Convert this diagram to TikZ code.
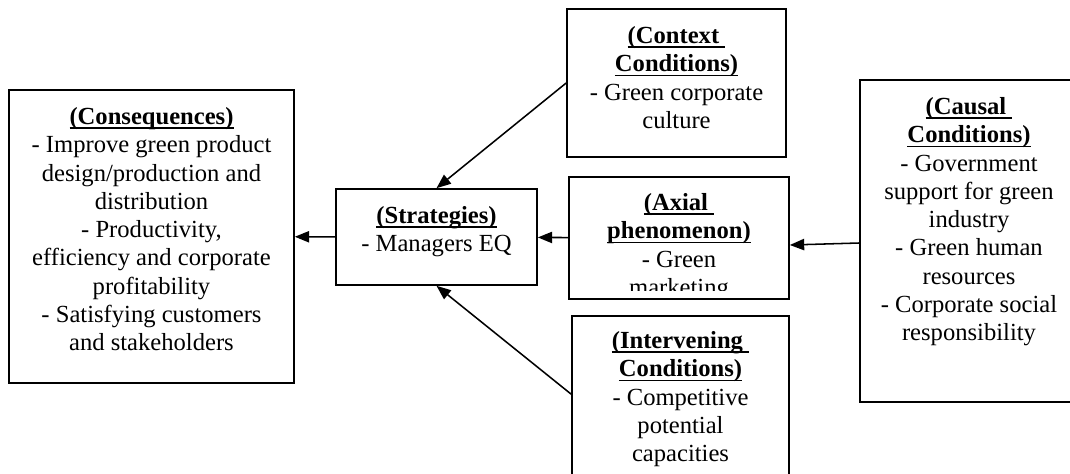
\documentclass[tikz,border=0pt]{standalone}
\usepackage{fontspec}
\setmainfont{Liberation Serif}
\usetikzlibrary{arrows.meta,calc,positioning}

\newcommand{\boxhead}[1]{\textbf{\setbox0\hbox{#1}\rlap{\rule[-2.3pt]{\wd0}{0.9pt}}\box0}}

\begin{document}
\begin{tikzpicture}[x=0.4878pt,y=-0.4878pt,>={Triangle[length=7pt,width=5.5pt]},
  box/.style 2 args={draw,line width=0.8pt,inner sep=0pt,
    minimum width=#1*0.4878pt,minimum height=#2*0.4878pt},
  boxtext/.style={align=center,anchor=north,inner sep=0pt,
    font=\fontsize{12pt}{13.8pt}\selectfont},
  link/.style={line width=0.75pt,->}]
  \clip (0,0) rectangle (1070,474);

  % boxes
  \node[box={285}{293}] (cons) at (151.5,236.5) {};
  \node[box={201}{96}] (strat) at (436.5,237) {};
  \node[box={219}{148}] (ctx) at (676.5,83) {};
  \node[box={220}{122}] (axial) at (679,238) {};
  \node[box={217}{184}] (interv) at (680.5,408) {};
  \node[box={218}{322}] (causal) at (969,241) {};

  % texts
  \node[boxtext] (constext) at (151.5,107) {\boxhead{(Consequences)}\\
    - Improve green product\\ design/production and\\ distribution\\
    - Productivity,\\ efficiency and corporate\\ profitability\\
    - Satisfying customers\\ and stakeholders};
  \node[boxtext] (strattext) at (436.5,206) {\boxhead{(Strategies)}\\ - Managers EQ};
  \node[boxtext] (ctxtext) at (676.5,26) {\boxhead{(Context\ }\\ \boxhead{Conditions)}\\
    - Green corporate\\ culture};
  \begin{scope}
    \clip (569,177) rectangle (789,290);
    \node[boxtext] (axialtext) at (679,193) {\boxhead{(Axial\ }\\ \boxhead{phenomenon)}\\
      - Green\\ marketing};
  \end{scope}
  \node[boxtext] (intervtext) at (680.5,331) {\boxhead{(Intervening\ }\\ \boxhead{Conditions)}\\
    - Competitive\\ potential\\ capacities};
  \node[boxtext] (causaltext) at (969,97) {\boxhead{(Causal\ }\\ \boxhead{Conditions)}\\
    - Government\\ support for green\\ industry\\ - Green human\\ resources\\
    - Corporate social\\ responsibility};

  % arrows
  \draw[link] (strat) -- (cons);
  \draw[link] (axial) -- (strat);
  \draw[link] ($(causal.west)+(0,2)$) -- ($(axial.east)+(0,7)$);
  \draw[link] (ctx.west) -- (strat.north);
  \draw[link] ($(interv.north west)+(0,79)$) -- (strat.south);
\end{tikzpicture}
\end{document}
